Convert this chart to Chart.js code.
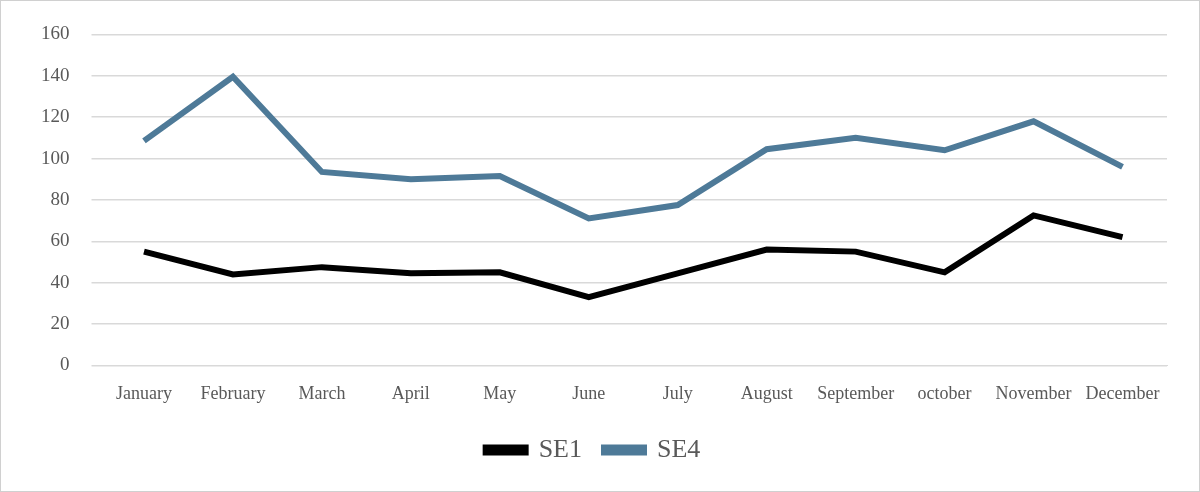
<!DOCTYPE html>
<html><head><meta charset="utf-8">
<script src="https://cdn.jsdelivr.net/npm/chart.js@4"></script>
<style>html,body{margin:0;padding:0;background:#fff}
#wrap{position:absolute;left:0;top:0;width:1198px;height:490px;border:1px solid #d0d0d0}
</style></head><body>
<div id="wrap"><canvas id="c"></canvas></div>
<script>
const categories=["January","February","March","April","May","June","July","August","September","october","November","December"];
const se1=[55,44,47.5,44.5,45,33,44.5,56,55,45,72.5,62];
const se4=[108.5,139.5,93.5,90,91.5,71,77.5,104.5,110,104,118,96];
const yTicks=[0,20,40,60,80,100,120,140,160];
new Chart(document.getElementById('c'),{type:'line',
data:{labels:categories,datasets:[
{label:'SE1',data:se1,borderColor:'#000',backgroundColor:'#000',borderWidth:6,pointRadius:0,tension:0},
{label:'SE4',data:se4,borderColor:'#4e7a98',backgroundColor:'#4e7a98',borderWidth:6,pointRadius:0,tension:0}]},
options:{responsive:true,maintainAspectRatio:false,animation:false,
layout:{padding:{left:18,right:32,top:22,bottom:18}},
plugins:{legend:{position:'bottom',labels:{font:{family:'Liberation Serif',size:26},color:'#595959',boxWidth:40,boxHeight:5,padding:22}},tooltip:{enabled:false}},
scales:{x:{offset:true,grid:{display:false},border:{color:'#d9d9d9'},ticks:{font:{family:'Liberation Serif',size:18},color:'#595959',maxRotation:0,autoSkip:false,padding:10}},
y:{min:0,max:160,afterBuildTicks:a=>{a.ticks=yTicks.map(v=>({value:v}))},grid:{color:'#d9d9d9',lineWidth:1.5},border:{display:false},ticks:{font:{family:'Liberation Serif',size:19},color:'#595959',padding:22}}}}});
</script></body></html>
